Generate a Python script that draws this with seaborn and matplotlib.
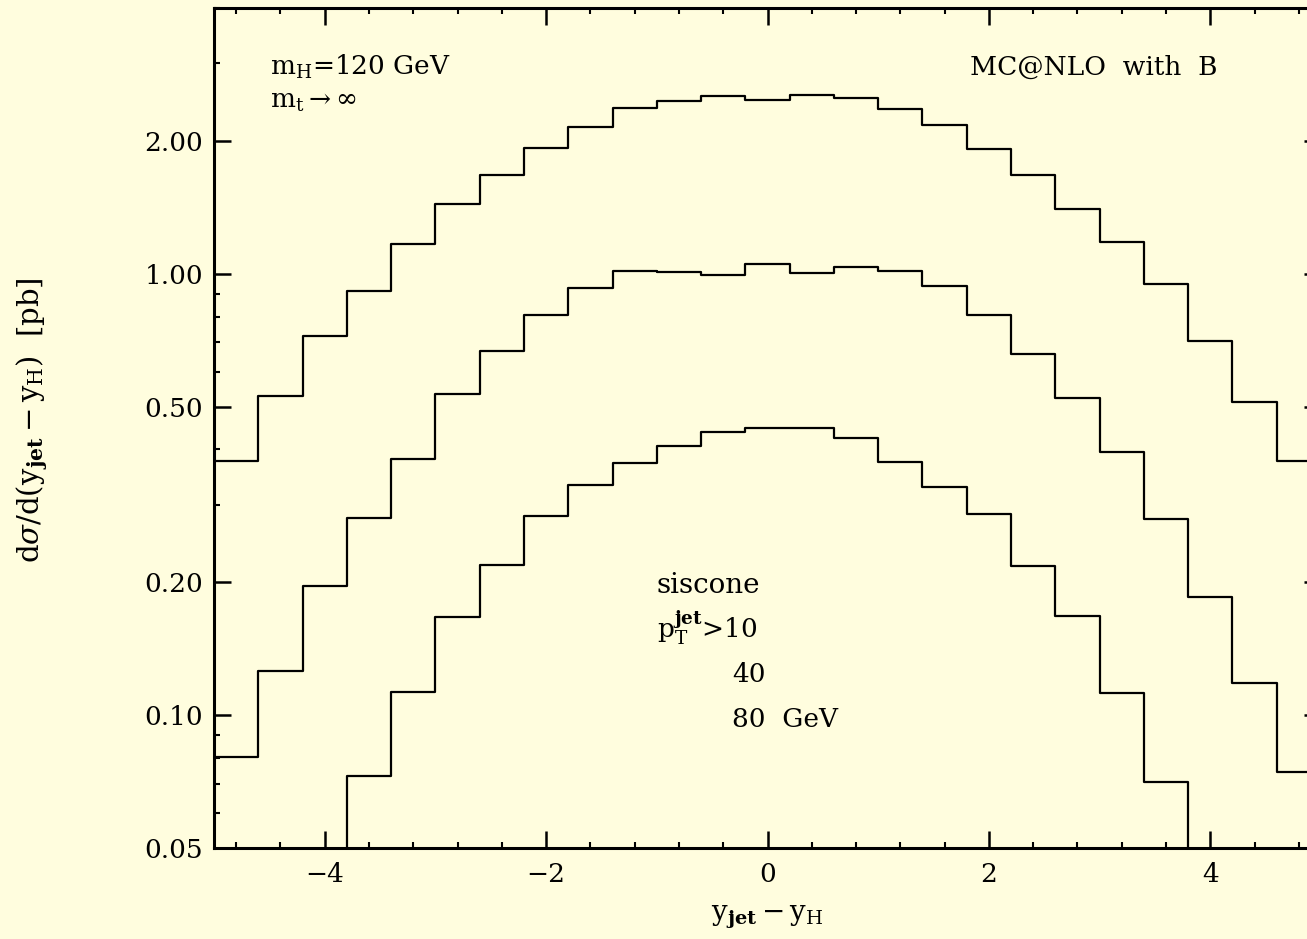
import numpy as np
import pandas as pd
import matplotlib
matplotlib.use("Agg")
import matplotlib.pyplot as plt
import matplotlib.ticker as mticker
import seaborn as sns

# ---------------- data ----------------
bin_edges = [-5.0, -4.6, -4.2, -3.8, -3.4, -3.0, -2.6, -2.2, -1.8, -1.4, -1.0, -0.6, -0.2,
             0.2, 0.6, 1.0, 1.4, 1.8, 2.2, 2.6, 3.0, 3.4, 3.8, 4.2, 4.6, 5.0]

pt10 = [0.377, 0.529, 0.724, 0.915, 1.17, 1.44, 1.67, 1.928, 2.146, 2.375, 2.464, 2.532, 2.481,
        2.546, 2.502, 2.366, 2.177, 1.918, 1.67, 1.40, 1.18, 0.949, 0.705, 0.513, 0.377]
pt40 = [0.0803, 0.126, 0.196, 0.280, 0.380, 0.534, 0.669, 0.807, 0.928, 1.016, 1.010, 0.991, 1.052,
        1.004, 1.036, 1.017, 0.939, 0.807, 0.658, 0.523, 0.395, 0.278, 0.185, 0.118, 0.0743]
pt80 = [0.018, 0.028, 0.045, 0.0727, 0.113, 0.167, 0.219, 0.283, 0.332, 0.373, 0.407, 0.438, 0.448,
        0.448, 0.425, 0.375, 0.329, 0.286, 0.218, 0.168, 0.112, 0.0705, 0.044, 0.027, 0.017]

series_names = ["10", "40", "80"]
series_values = [pt10, pt40, pt80]

y_major = [0.05, 0.10, 0.20, 0.50, 1.00, 2.00]
y_major_labels = ["0.05", "0.10", "0.20", "0.50", "1.00", "2.00"]
x_major = [-4, -2, 0, 2, 4]
x_major_labels = ["\u22124", "\u22122", "0", "2", "4"]

# ---------------- style ----------------
sns.set_theme(style="ticks")
bg = "#FFFDDE"
plt.rcParams["font.family"] = ["DejaVu Serif"]
plt.rcParams["mathtext.fontset"] = "dejavuserif"
plt.rcParams["figure.facecolor"] = bg
plt.rcParams["axes.facecolor"] = bg

W, H = 1307, 939
fig = plt.figure(figsize=(W / 100, H / 100), dpi=100)
ax = fig.add_axes([214 / W, (H - 848) / H, (1321 - 214) / W, (848 - 8) / H])

rows = []
for name, vals in zip(series_names, series_values):
    ys = list(vals) + [vals[-1]]
    for xe, yv in zip(bin_edges, ys):
        rows.append({"x": xe, "y": yv, "cut": name})
df = pd.DataFrame(rows)

for name in series_names:
    sns.lineplot(data=df[df["cut"] == name], x="x", y="y", ax=ax, color="black",
                 drawstyle="steps-post", linewidth=1.6, estimator=None, sort=False)

ax.set_yscale("log")
ax.set_xlim(-5, 5)
ax.set_ylim(0.05, 4.0)

ax.yaxis.set_major_locator(mticker.FixedLocator(y_major))
ax.yaxis.set_major_formatter(mticker.FixedFormatter(y_major_labels))
ax.yaxis.set_minor_locator(mticker.LogLocator(base=10, subs=np.arange(2, 10)))
ax.yaxis.set_minor_formatter(mticker.NullFormatter())
ax.xaxis.set_major_locator(mticker.FixedLocator(x_major))
ax.xaxis.set_major_formatter(mticker.FixedFormatter(x_major_labels))
ax.xaxis.set_minor_locator(mticker.MultipleLocator(0.4))

ax.tick_params(which="both", direction="in", top=True, right=True, colors="black",
               labelsize=19)
ax.tick_params(which="major", length=12, width=1.8)
ax.tick_params(which="minor", length=4.5, width=1.5)
ax.tick_params(axis="y", pad=8)
ax.tick_params(axis="x", pad=10)
for s in ax.spines.values():
    s.set_linewidth(2.2)
    s.set_color("black")
ax.set_xlabel("")
ax.set_ylabel("")

def ftxt(x, y, s, size=19, **kw):
    fig.text(x / W, 1 - y / H, s, fontsize=size, color="black", **kw)

ftxt(270, 75, r"$\mathrm{m_H}$=120 GeV", ha="left", va="baseline")
ftxt(270, 108, r"$\mathrm{m_t}$$\rightarrow\infty$", ha="left", va="baseline")
ftxt(1218, 75, "MC@NLO  with  B", ha="right", va="baseline")
ftxt(657, 593, "siscone", size=20, ha="left", va="baseline")
ftxt(657, 638, r"$\mathrm{p_T^{\mathbf{jet}}}$>10", ha="left", va="baseline")
ftxt(732, 682, "40", ha="left", va="baseline")
ftxt(732, 727, "80  GeV", ha="left", va="baseline")

ftxt(767, 917, r"$\mathrm{y_{\mathbf{jet}}}-\mathrm{y_H}$", size=20, ha="center", va="center")
ftxt(32, 420, r"$\mathrm{d}\sigma/\mathrm{d(y_{\mathbf{jet}}}-\mathrm{y_H})$  [pb]",
     size=21, ha="center", va="center", rotation=90)

fig.savefig("out.png", dpi=100, facecolor=bg)
